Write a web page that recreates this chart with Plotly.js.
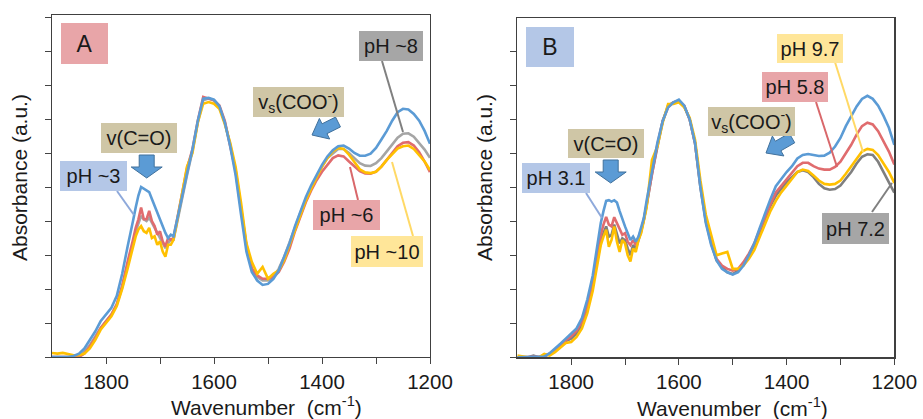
<!DOCTYPE html>
<html>
<head>
<meta charset="utf-8">
<script src="https://cdn.plot.ly/plotly-3.0.1.min.js"></script>
<style>html,body{margin:0;padding:0;background:#fff;}#chart{width:923px;height:419px;}</style>
</head>
<body>
<div id="chart"></div>
<script>
// ---------- DATA ----------
const wavenumber = [
  1900,1890,1880,1870,1860,1850,1840,1830,1820,1810,1800,1790,1780,1770,1760,
  1755,1750,1745,1740,1735,1730,1725,1720,1715,1710,1705,1700,1695,1690,1685,1680,1675,1670,1665,1660,
  1650,1640,1630,1620,1610,1600,1590,1580,1570,1560,1550,1540,1530,1520,1510,1500,1490,1480,1470,1460,
  1450,1440,1430,1420,1410,1400,1390,1380,1370,1360,1350,1340,1330,1320,1310,1300,1290,1280,1270,1260,
  1250,1240,1230,1220,1210,1200
];
const xTickVals = [1800,1700,1600,1500,1400,1300,1200];
const xTickText = ['1800',' ','1600',' ','1400',' ','1200'];
const yTickVals = [0,1,2,3,4,5,6,7,8,9,10];

// Panel A
const a_pH3 = [
  0.0,0.0,0.0,0.0,0.03,0.1,0.25,0.5,0.75,1.05,1.25,1.45,1.8,2.45,3.25,
  3.6,4.0,4.4,4.75,5.0,4.95,4.9,4.85,4.65,4.45,4.2,4.0,3.8,3.65,3.5,3.6,3.55,3.9,4.3,4.65,
  5.4,6.1,6.95,7.6,7.62,7.57,7.38,6.9,6.2,5.35,4.2,3.1,2.5,2.25,2.12,2.15,2.3,2.55,2.95,3.35,
  3.85,4.3,4.7,5.05,5.35,5.65,5.9,6.08,6.2,6.22,6.13,6.0,5.92,5.92,5.98,6.15,6.4,6.65,6.95,7.2,
  7.3,7.28,7.15,6.95,6.65,6.27
];
const a_pH6 = [
  0,0,0,0,0,0,0.1,0.3,0.55,0.85,1.05,1.25,1.55,2.1,2.8,
  3.1,3.45,3.8,4.05,4.4,4.05,4.05,4.3,4.0,3.85,3.6,3.7,3.4,3.25,3.5,3.45,3.5,3.9,4.35,4.8,
  5.55,6.1,6.95,7.65,7.6,7.55,7.4,6.95,6.2,5.5,4.4,3.3,2.6,2.4,2.3,2.3,2.35,2.5,2.8,3.2,
  3.7,4.15,4.55,4.9,5.2,5.45,5.65,5.85,5.93,5.9,5.75,5.6,5.47,5.4,5.39,5.45,5.6,5.8,6.0,6.2,
  6.3,6.32,6.22,6.02,5.75,5.44
];
const a_pH8 = [
  0,0,0,0,0,0.05,0.15,0.35,0.6,0.85,1.05,1.25,1.55,2.05,2.7,
  3.0,3.35,3.7,3.95,4.15,4.05,4.0,4.1,3.95,3.8,3.65,3.5,3.35,3.2,3.35,3.45,3.45,3.85,4.25,4.6,
  5.35,6.05,6.9,7.55,7.6,7.55,7.35,6.9,6.25,5.45,4.35,3.25,2.6,2.35,2.25,2.25,2.35,2.6,2.95,3.35,
  3.8,4.25,4.65,5.0,5.3,5.6,5.85,6.0,6.12,6.12,6.0,5.85,5.7,5.63,5.62,5.7,5.85,6.05,6.25,6.45,
  6.57,6.58,6.48,6.3,6.1,5.86
];
const a_pH10 = [
  0.12,0.1,0.12,0.08,0.05,0.05,0.1,0.25,0.5,0.8,1.0,1.2,1.5,2.0,2.6,
  2.9,3.25,3.55,3.75,3.85,3.7,3.65,3.8,3.5,3.55,3.3,3.4,3.1,2.95,3.3,3.3,3.45,3.85,4.3,4.7,
  5.6,6.0,6.9,7.45,7.5,7.45,7.3,6.85,6.3,5.6,4.55,3.35,2.8,2.45,2.65,2.3,2.45,2.55,2.85,3.3,
  3.75,4.2,4.6,4.95,5.3,5.6,5.85,6.05,6.15,6.12,5.95,5.72,5.52,5.43,5.41,5.45,5.6,5.8,5.98,6.13,
  6.2,6.22,6.12,5.95,5.75,5.5
];

// Panel B
const b_pH31 = [
  0,0,0,0,0,0.02,0.12,0.25,0.4,0.55,0.7,0.85,1.15,1.7,2.4,
  2.9,3.5,3.95,4.3,4.6,4.62,4.58,4.62,4.55,4.3,4.05,3.85,3.65,3.45,3.55,3.4,3.55,3.8,4.1,4.6,
  5.4,6.3,6.95,7.35,7.5,7.58,7.4,7.0,6.3,5.0,3.95,3.3,2.85,2.6,2.5,2.43,2.5,2.7,3.0,3.35,
  3.8,4.25,4.65,5.03,5.25,5.45,5.62,5.85,5.95,5.98,5.95,5.92,5.93,6.02,6.2,6.45,6.8,7.1,7.38,7.6,
  7.69,7.6,7.4,7.1,6.75,6.25
];
const b_pH58 = [
  0,0,0,0,0,0.02,0.1,0.22,0.35,0.5,0.62,0.78,1.05,1.55,2.2,
  2.65,3.2,3.6,3.9,4.13,3.9,3.85,4.12,3.95,3.75,3.6,3.65,3.4,3.3,3.45,3.3,3.5,3.75,4.05,4.5,
  5.4,6.25,6.95,7.35,7.5,7.55,7.4,7.0,6.3,5.05,4.05,3.4,2.9,2.7,2.6,2.55,2.6,2.8,3.05,3.35,
  3.75,4.15,4.5,4.85,5.05,5.25,5.42,5.62,5.72,5.72,5.62,5.55,5.52,5.52,5.6,5.75,6.0,6.25,6.55,6.8,
  6.9,6.85,6.65,6.35,6.05,5.67
];
const b_pH72 = [
  0,0,0,0.05,0,0.05,0.1,0.2,0.35,0.48,0.55,0.7,0.95,1.45,2.1,
  2.55,3.05,3.4,3.65,3.85,3.55,3.6,3.9,3.6,3.35,3.5,3.45,3.2,3.0,3.3,3.2,3.45,3.7,4.05,4.45,
  5.4,6.2,6.95,7.4,7.5,7.52,7.38,7.0,6.3,5.0,4.0,3.35,2.85,2.65,2.5,2.45,2.55,2.75,3.0,3.3,
  3.7,4.1,4.45,4.75,4.95,5.15,5.3,5.45,5.5,5.45,5.3,5.1,4.97,4.93,4.95,5.05,5.25,5.45,5.7,5.9,
  5.97,5.95,5.75,5.45,5.15,4.84
];
const b_pH97 = [
  0.05,0.02,0,0,0,0.1,0.05,0.15,0.3,0.42,0.45,0.6,0.85,1.3,1.95,
  2.4,2.9,3.3,3.55,3.75,3.25,3.45,3.85,3.4,3.1,3.45,3.35,3.0,2.82,3.2,3.1,3.45,3.65,4.0,4.4,
  5.8,6.2,6.9,7.45,7.45,7.5,7.35,7.05,6.4,5.2,4.2,3.6,3.0,3.05,3.1,2.6,2.6,2.7,2.9,3.15,
  3.55,3.95,4.3,4.6,4.85,5.05,5.25,5.45,5.52,5.48,5.35,5.2,5.1,5.08,5.1,5.2,5.4,5.62,5.85,6.05,
  6.13,6.1,5.95,5.7,5.45,5.13
];

// ---------- STYLE ----------
const W = 923, H = 419;
const PX = x => x / W;
const PY = y => 1 - y / H;
const FONT = 'Liberation Sans, Arial, sans-serif';
const TXT = '#1a1a1a';
const C = {blue:'#5B9BD5', red:'#E06C6E', gray:'#A5A5A5', dgray:'#7F7F7F', yellow:'#FFC000'};
const BOX = {pink:'#E8A5A8', tan:'#CFC6A6', lblue:'#B4C7E7', yel:'#FFE699', gray:'#A6A6A6'};

function tr(y, xa, ya, color, name) {
  return {x: wavenumber, y: y, xaxis: xa, yaxis: ya, type: 'scatter', mode: 'lines', name: name,
          line: {color: color, width: 2.6}, showlegend: false, hoverinfo: 'skip'};
}
const data = [
  tr(a_pH8, 'x', 'y', C.gray, 'pH ~8'),
  tr(a_pH6, 'x', 'y', C.red, 'pH ~6'),
  tr(a_pH10, 'x', 'y', C.yellow, 'pH ~10'),
  tr(a_pH3, 'x', 'y', C.blue, 'pH ~3'),
  tr(b_pH72, 'x2', 'y2', C.dgray, 'pH 7.2'),
  tr(b_pH58, 'x2', 'y2', C.red, 'pH 5.8'),
  tr(b_pH97, 'x2', 'y2', C.yellow, 'pH 9.7'),
  tr(b_pH31, 'x2', 'y2', C.blue, 'pH 3.1')
];

function xax(domain) {
  return {domain: domain, range: [1900, 1200], tickmode: 'array', tickvals: xTickVals, ticktext: xTickText,
    ticks: 'outside', ticklen: 6, tickwidth: 1, tickcolor: '#444', showline: true, linecolor: '#404040',
    linewidth: 1.3, mirror: true, showgrid: false, zeroline: false, ticklabelstandoff: 0,
    tickfont: {family: FONT, size: 20.5, color: TXT}, fixedrange: true};
}
function yax(domain, top, anchor) {
  return {domain: domain, range: [0, top], tickmode: 'array', tickvals: yTickVals, showticklabels: false,
    ticks: 'outside', ticklen: 6, tickwidth: 1, tickcolor: '#444', showline: true, linecolor: '#404040',
    linewidth: 1.3, mirror: true, showgrid: false, zeroline: false, anchor: anchor, fixedrange: true};
}

function label(cx, cy, w, h, text, bg, size) {
  return {xref: 'paper', yref: 'paper', x: PX(cx), y: PY(cy), xanchor: 'center', yanchor: 'middle',
    width: w, height: h, bgcolor: bg, borderpad: 0, borderwidth: 0, showarrow: false, align: 'center', valign: 'middle',
    text: text, font: {family: FONT, size: size || 20, color: TXT}};
}
function title(cx, cy, text, angle) {
  return {xref: 'paper', yref: 'paper', x: PX(cx), y: PY(cy), xanchor: 'center', yanchor: 'middle',
    showarrow: false, text: text, textangle: angle || 0, font: {family: FONT, size: 21, color: TXT}};
}
function leader(x0, y0, x1, y1, color) {
  return {type: 'line', xref: 'paper', yref: 'paper', x0: PX(x0), y0: PY(y0), x1: PX(x1), y1: PY(y1),
    line: {color: color, width: 2}, layer: 'above'};
}
function arrow(tx, ty, hx, hy, sw, hw, hl) {
  const dx = hx - tx, dy = hy - ty, L = Math.hypot(dx, dy);
  const ux = dx / L, uy = dy / L, nx = -uy, ny = ux;
  const bx = hx - ux * hl, by = hy - uy * hl;
  const pts = [
    [tx + nx * sw / 2, ty + ny * sw / 2], [bx + nx * sw / 2, by + ny * sw / 2], [bx + nx * hw / 2, by + ny * hw / 2],
    [hx, hy], [bx - nx * hw / 2, by - ny * hw / 2], [bx - nx * sw / 2, by - ny * sw / 2], [tx - nx * sw / 2, ty - ny * sw / 2]
  ];
  const path = 'M' + pts.map(p => PX(p[0]).toFixed(5) + ',' + PY(p[1]).toFixed(5)).join(' L') + ' Z';
  return {type: 'path', xref: 'paper', yref: 'paper', path: path, fillcolor: '#5B9BD5',
    line: {color: '#41719C', width: 1}, layer: 'above'};
}

const VS = 'v<sub>s</sub>(COO<sup>-</sup>)';
const annotations = [
  // axis titles
  title(20, 178, 'Absorbance (a.u.)', -90),
  title(485, 178, 'Absorbance (a.u.)', -90),
  title(266, 406, 'Wavenumber  (cm<sup>-1</sup>)'),
  title(732, 407, 'Wavenumber  (cm<sup>-1</sup>)'),
  // panel A
  label(84, 43, 47, 41, 'A', BOX.pink, 23),
  label(391, 46, 64, 30, 'pH ~8', BOX.gray),
  label(298, 102, 91, 30, VS, BOX.tan),
  label(139, 138, 76, 30, 'v(C=O)', BOX.tan),
  label(93, 176, 67, 30, 'pH ~3', BOX.lblue),
  label(346, 215, 67, 30, 'pH ~6', BOX.pink),
  label(387, 251, 72, 31, 'pH ~10', BOX.yel),
  // panel B
  label(550, 47, 48, 40, 'B', BOX.lblue, 23),
  label(810, 48, 66, 29, 'pH 9.7', BOX.yel),
  label(795, 87, 66, 30, 'pH 5.8', BOX.pink),
  label(751, 121, 87, 29, VS, BOX.tan),
  label(606, 143, 76, 29, 'v(C=O)', BOX.tan),
  label(556, 178, 68, 30, 'pH 3.1', BOX.lblue),
  label(855, 228, 67, 31, 'pH 7.2', BOX.gray)
];

const shapes = [
  // leaders A
  leader(117, 191, 134, 215, '#8EA9DB'),
  leader(358, 200, 350, 167, '#D9686B'),
  leader(413, 236, 392, 162, '#FFD966'),
  leader(382, 61, 403, 132, '#808080'),
  // leaders B
  leader(586, 193, 602, 218, '#8EA9DB'),
  leader(816, 102, 837, 167, '#D9686B'),
  leader(835, 62, 863, 152, '#FFD966'),
  leader(872, 212, 892, 183, '#808080'),
  // arrows
  arrow(146.7, 155, 146.7, 178, 15, 31, 11),
  arrow(610.7, 160, 610.7, 183, 15, 31, 11),
  arrow(338, 122, 312, 135, 11, 23, 14),
  arrow(792, 138, 766, 153, 11, 23, 14)
];

const layout = {
  width: W, height: H, margin: {l: 0, r: 0, t: 0, b: 0},
  paper_bgcolor: '#fff', plot_bgcolor: '#fff', showlegend: false,
  xaxis: xax([52 / W, 430 / W]),
  yaxis: yax([1 - 357 / H, 1 - 15 / H], 10.06, 'x'),
  xaxis2: Object.assign(xax([517.3 / W, 894.3 / W]), {anchor: 'y2'}),
  yaxis2: yax([1 - 357.3 / H, 1 - 18.3 / H], 9.97, 'x2'),
  annotations: annotations, shapes: shapes
};
layout.xaxis.anchor = 'y';

Plotly.newPlot('chart', data, layout, {displayModeBar: false, staticPlot: true});
</script>
</body>
</html>
